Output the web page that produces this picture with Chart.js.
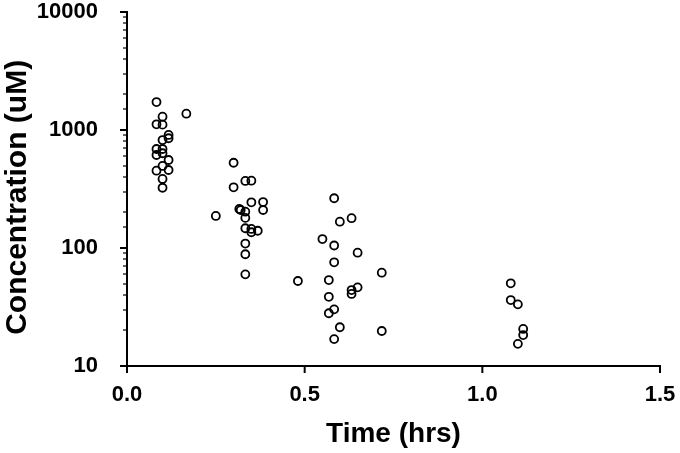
<!DOCTYPE html>
<html>
<head>
<meta charset="utf-8">
<script src="https://cdn.jsdelivr.net/npm/chart.js@4.4.1/dist/chart.umd.min.js"></script>
<style>
html,body{margin:0;padding:0;background:#fff;}
#wrap{width:680px;height:453px;}
</style>
</head>
<body>
<div id="wrap"><canvas id="c" width="680" height="453"></canvas></div>
<script>
// Time (hrs)
const times = [
  0.083,0.100,0.167,0.083,0.100,0.117,0.117,0.100,0.083,0.100,0.083,0.100,0.117,0.100,0.083,0.117,0.100,0.100,
  0.300,0.333,0.350,0.300,0.350,0.383,0.383,0.316,0.320,0.333,0.250,0.333,0.333,0.350,0.350,0.368,0.333,0.333,0.333,
  0.481,0.583,0.599,0.632,0.550,0.583,0.649,0.583,0.717,0.568,0.568,0.632,0.632,0.649,0.583,0.568,0.599,0.717,0.583,
  1.080,1.080,1.100,1.115,1.115,1.100
];
// Concentration (uM)
const concs = [
  1726,1297,1374,1117,1110,908,851,822,690,690,614,635,557,496,452,458,385,324,
  528,370,372,327,244,245,210,214,210,203,187,180,147,145,136,140,109,88.5,59.8,
  52.5,264,167,179,119,105,91.2,75.6,61.8,53.5,38.6,44,40.8,46.4,30.2,28,21.3,19.8,16.9,
  50.2,36.2,33.3,20.6,18.3,15.4
];
const xTicks = [0, 0.5, 1.0, 1.5];
const yMajor = [10, 100, 1000, 10000];

const points = times.map((t, i) => ({x: t, y: concs[i]}));

function noPad(scale) {
  scale.paddingTop = 0; scale.paddingBottom = 0;
  scale.paddingLeft = 0; scale.paddingRight = 0;
}

const tickPlugin = {
  id: 'ticks',
  afterDraw(chart) {
    const ctx = chart.ctx;
    const ys = chart.scales.y, xs = chart.scales.x;
    ctx.save();
    ctx.strokeStyle = '#000';
    ys.ticks.forEach(t => {
      const py = ys.getPixelForValue(t.value);
      const major = yMajor.includes(t.value);
      ctx.lineWidth = major ? 2 : 1.2;
      const len = major ? 7 : 4;
      ctx.beginPath();
      ctx.moveTo(ys.right - len, Math.round(py));
      ctx.lineTo(ys.right, Math.round(py));
      ctx.stroke();
    });
    ctx.lineWidth = 2;
    xTicks.forEach(v => {
      const px = xs.getPixelForValue(v);
      ctx.beginPath();
      ctx.moveTo(px, xs.top);
      ctx.lineTo(px, xs.top + 7);
      ctx.stroke();
    });
    ctx.restore();
  }
};

new Chart(document.getElementById('c'), {
  type: 'scatter',
  data: {
    datasets: [{
      data: points,
      pointStyle: 'circle',
      pointRadius: 4,
      pointBorderWidth: 1.8,
      pointBorderColor: '#000',
      pointBackgroundColor: 'rgba(255,255,255,0)',
      showLine: false
    }]
  },
  options: {
    responsive: false,
    devicePixelRatio: 1,
    animation: false,
    layout: {padding: {top: 12, right: 20, left: 0, bottom: 0}},
    plugins: {legend: {display: false}, tooltip: {enabled: false}},
    scales: {
      x: {
        type: 'linear',
        min: 0, max: 1.5,
        afterBuildTicks(scale) { scale.ticks = xTicks.map(v => ({value: v})); },
        afterFit(scale) { scale.height = 87; noPad(scale); },
        grid: {display: false},
        border: {display: true, color: '#000', width: 2},
        ticks: {
          color: '#000',
          padding: 8,
          font: {family: 'Liberation Sans, Arial, sans-serif', size: 22, weight: 'bold'},
          callback: v => Number(v).toFixed(1)
        },
        title: {
          display: true,
          text: 'Time (hrs)',
          color: '#000',
          padding: {top: 0, bottom: 2},
          font: {family: 'Liberation Sans, Arial, sans-serif', size: 28, weight: 'bold'}
        }
      },
      y: {
        type: 'logarithmic',
        min: 10, max: 10000,
        afterFit(scale) { scale.width = 127; noPad(scale); },
        grid: {display: false},
        border: {display: true, color: '#000', width: 2},
        ticks: {
          color: '#000',
          padding: 21,
          autoSkip: false,
          font: {family: 'Liberation Sans, Arial, sans-serif', size: 22, weight: 'bold'},
          callback: v => yMajor.includes(v) ? String(v) : ''
        },
        title: {
          display: true,
          text: 'Concentration (uM)  ',
          color: '#000',
          padding: {top: 0, bottom: 0},
          font: {family: 'Liberation Sans, Arial, sans-serif', size: 30, weight: 'bold'}
        }
      }
    }
  },
  plugins: [tickPlugin]
});
</script>
</body>
</html>
